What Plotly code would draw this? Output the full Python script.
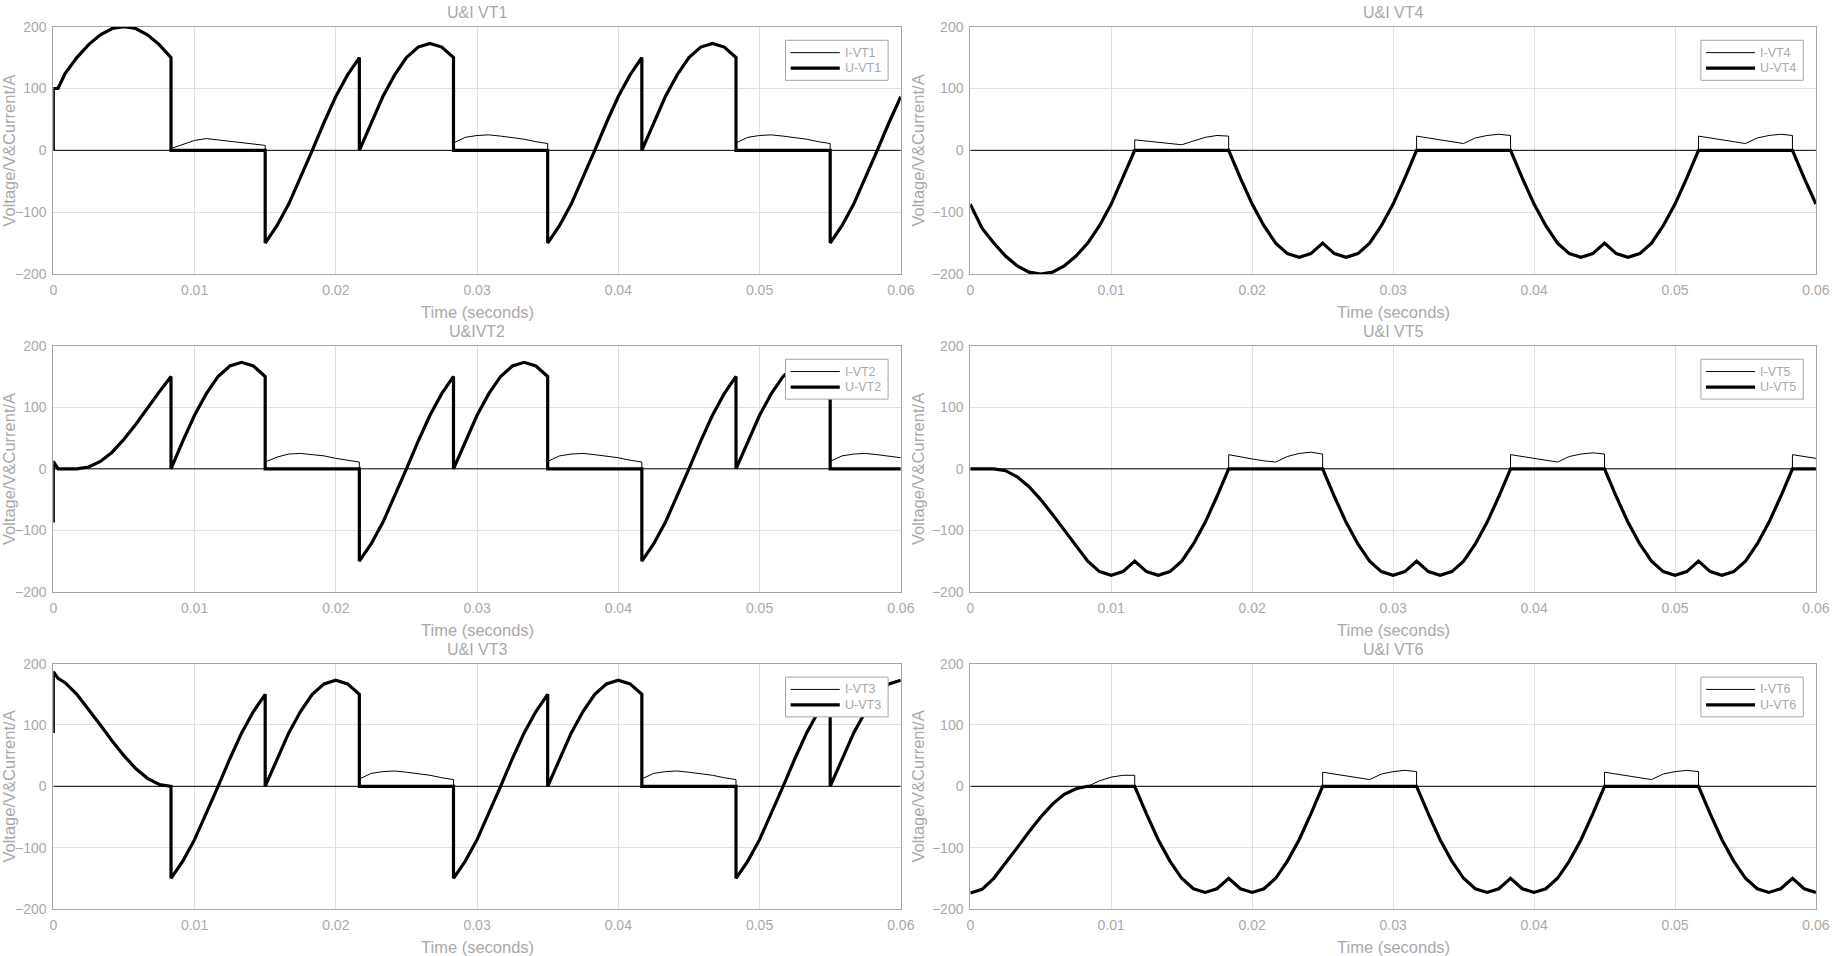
import plotly.graph_objects as go

# Sample instants as electrical angle (degrees of the 50 Hz supply, 18000 deg = 1 s).
# An angle written twice marks a vertical step in the trace.
DEG_UPPER = [0, 0, 6, 15, 30, 45, 60, 75, 90, 105, 120, 135, 150,
             150, 165, 180, 195, 210, 225, 240, 255, 270,
             270, 285, 300, 315, 330, 345, 360, 375, 390,
             390, 405, 420, 435, 450, 465, 480, 495, 510,
             510, 525, 540, 555, 570, 585, 600, 615, 630,
             630, 645, 660, 675, 690, 705, 720, 735, 750,
             750, 765, 780, 795, 810, 825, 840, 855, 870,
             870, 885, 900, 915, 930, 945, 960, 975, 990,
             990, 1005, 1020, 1035, 1050, 1065, 1080]

DEG_LOWER = [0, 15, 30, 45, 60, 75, 90, 105, 120, 135, 150,
             150, 165, 180, 195, 210,
             210, 225, 240, 255, 270, 285, 300, 315, 330,
             330, 345, 360, 375, 390, 405, 420, 435, 450,
             450, 465, 480, 495, 510, 525, 540, 555, 570,
             570, 585, 600, 615, 630, 645, 660, 675, 690,
             690, 705, 720, 735, 750, 765, 780, 795, 810,
             810, 825, 840, 855, 870, 885, 900, 915, 930,
             930, 945, 960, 975, 990, 1005, 1020, 1035, 1050,
             1050, 1065, 1080]

U_VT1 = [0, 100, 100, 124, 150, 171, 187, 197, 200, 197, 187, 171, 150,
         0, 0, 0, 0, 0, 0, 0, 0, 0,
         -150, -122, -87, -45, 0, 45, 87, 122, 150,
         0, 45, 87, 122, 150, 167, 173, 167, 150,
         0, 0, 0, 0, 0, 0, 0, 0, 0,
         -150, -122, -87, -45, 0, 45, 87, 122, 150,
         0, 45, 87, 122, 150, 167, 173, 167, 150,
         0, 0, 0, 0, 0, 0, 0, 0, 0,
         -150, -122, -87, -45, 0, 45, 87]
I_VT1 = [0, 0, 0, 0, 0, 0, 0, 0, 0, 0, 0, 0, 0,
         3, 10, 16, 19, 17, 14, 12, 10, 8,
         0, 0, 0, 0, 0, 0, 0, 0, 0,
         0, 0, 0, 0, 0, 0, 0, 0, 0,
         12, 21, 24, 25, 23, 21, 18, 14, 11,
         0, 0, 0, 0, 0, 0, 0, 0, 0,
         0, 0, 0, 0, 0, 0, 0, 0, 0,
         12, 21, 24, 25, 23, 21, 18, 14, 11,
         0, 0, 0, 0, 0, 0, 0]

U_VT2 = [-87, 12, 0, 0, 0, 3, 12, 27, 48, 72, 99, 125, 150,
         0, 45, 87, 122, 150, 167, 173, 167, 150,
         0, 0, 0, 0, 0, 0, 0, 0, 0,
         -150, -122, -87, -45, 0, 45, 87, 122, 150,
         0, 45, 87, 122, 150, 167, 173, 167, 150,
         0, 0, 0, 0, 0, 0, 0, 0, 0,
         -150, -122, -87, -45, 0, 45, 87, 122, 150,
         0, 45, 87, 122, 150, 167, 173, 167, 150,
         0, 0, 0, 0, 0, 0, 0]
I_VT2 = [0, 0, 0, 0, 0, 0, 0, 0, 0, 0, 0, 0, 0,
         0, 0, 0, 0, 0, 0, 0, 0, 0,
         11, 19, 24, 25, 23, 21, 17, 14, 11,
         0, 0, 0, 0, 0, 0, 0, 0, 0,
         0, 0, 0, 0, 0, 0, 0, 0, 0,
         12, 21, 24, 25, 23, 21, 18, 14, 11,
         0, 0, 0, 0, 0, 0, 0, 0, 0,
         0, 0, 0, 0, 0, 0, 0, 0, 0,
         12, 21, 24, 25, 23, 21, 18]

U_VT3 = [87, 187, 176, 169, 150, 126, 100, 74, 50, 29, 13, 3, 0,
         -150, -122, -87, -45, 0, 45, 87, 122, 150,
         0, 45, 87, 122, 150, 167, 173, 167, 150,
         0, 0, 0, 0, 0, 0, 0, 0, 0,
         -150, -122, -87, -45, 0, 45, 87, 122, 150,
         0, 45, 87, 122, 150, 167, 173, 167, 150,
         0, 0, 0, 0, 0, 0, 0, 0, 0,
         -150, -122, -87, -45, 0, 45, 87, 122, 150,
         0, 45, 87, 122, 150, 167, 173]
I_VT3 = [0, 0, 0, 0, 0, 0, 0, 0, 0, 0, 0, 0, 0,
         0, 0, 0, 0, 0, 0, 0, 0, 0,
         0, 0, 0, 0, 0, 0, 0, 0, 0,
         12, 21, 24, 25, 23, 21, 18, 14, 11,
         0, 0, 0, 0, 0, 0, 0, 0, 0,
         0, 0, 0, 0, 0, 0, 0, 0, 0,
         12, 21, 24, 25, 23, 21, 18, 14, 11,
         0, 0, 0, 0, 0, 0, 0, 0, 0,
         0, 0, 0, 0, 0, 0, 0]

U_VT4 = [-87, -126, -150, -171, -187, -197, -200, -197, -187, -171, -150,
         -150, -122, -87, -45, 0,
         0, 0, 0, 0, 0, 0, 0, 0, 0,
         0, -45, -87, -122, -150, -167, -173, -167, -150,
         -150, -167, -173, -167, -150, -122, -87, -45, 0,
         0, 0, 0, 0, 0, 0, 0, 0, 0,
         0, -45, -87, -122, -150, -167, -173, -167, -150,
         -150, -167, -173, -167, -150, -122, -87, -45, 0,
         0, 0, 0, 0, 0, 0, 0, 0, 0,
         0, -45, -87]
I_VT4 = [0, 0, 0, 0, 0, 0, 0, 0, 0, 0, 0,
         0, 0, 0, 0, 0,
         17, 15, 13, 11, 9, 15, 21, 24, 23,
         0, 0, 0, 0, 0, 0, 0, 0, 0,
         0, 0, 0, 0, 0, 0, 0, 0, 0,
         23, 20, 17, 14, 11, 20, 24, 26, 24,
         0, 0, 0, 0, 0, 0, 0, 0, 0,
         0, 0, 0, 0, 0, 0, 0, 0, 0,
         23, 20, 17, 14, 11, 20, 24, 26, 24,
         0, 0, 0]

U_VT5 = [0, 0, 0, -3, -13, -29, -50, -74, -100, -126, -150,
         -150, -167, -173, -167, -150,
         -150, -167, -173, -167, -150, -122, -87, -45, 0,
         0, 0, 0, 0, 0, 0, 0, 0, 0,
         0, -45, -87, -122, -150, -167, -173, -167, -150,
         -150, -167, -173, -167, -150, -122, -87, -45, 0,
         0, 0, 0, 0, 0, 0, 0, 0, 0,
         0, -45, -87, -122, -150, -167, -173, -167, -150,
         -150, -167, -173, -167, -150, -122, -87, -45, 0,
         0, 0, 0]
I_VT5 = [0, 0, 0, 0, 0, 0, 0, 0, 0, 0, 0,
         0, 0, 0, 0, 0,
         0, 0, 0, 0, 0, 0, 0, 0, 0,
         23, 19, 16, 13, 11, 20, 25, 27, 24,
         0, 0, 0, 0, 0, 0, 0, 0, 0,
         0, 0, 0, 0, 0, 0, 0, 0, 0,
         23, 20, 17, 14, 11, 20, 24, 26, 24,
         0, 0, 0, 0, 0, 0, 0, 0, 0,
         0, 0, 0, 0, 0, 0, 0, 0, 0,
         23, 20, 17]

U_VT6 = [-174, -168, -150, -126, -100, -74, -50, -29, -13, -4, 0,
         0, 0, 0, 0, 0,
         0, -45, -87, -122, -150, -167, -173, -167, -150,
         -150, -167, -173, -167, -150, -122, -87, -45, 0,
         0, 0, 0, 0, 0, 0, 0, 0, 0,
         0, -45, -87, -122, -150, -167, -173, -167, -150,
         -150, -167, -173, -167, -150, -122, -87, -45, 0,
         0, 0, 0, 0, 0, 0, 0, 0, 0,
         0, -45, -87, -122, -150, -167, -173, -167, -150,
         -150, -167, -173]
I_VT6 = [0, 0, 0, 0, 0, 0, 0, 0, 0, 0, 0,
         0, 9, 15, 18, 18,
         0, 0, 0, 0, 0, 0, 0, 0, 0,
         0, 0, 0, 0, 0, 0, 0, 0, 0,
         23, 20, 17, 14, 11, 20, 24, 26, 24,
         0, 0, 0, 0, 0, 0, 0, 0, 0,
         0, 0, 0, 0, 0, 0, 0, 0, 0,
         23, 20, 17, 14, 11, 20, 24, 26, 24,
         0, 0, 0, 0, 0, 0, 0, 0, 0,
         0, 0, 0]

TITLES = ["U&I VT1", "U&I VT4", "U&IVT2", "U&I VT5", "U&I VT3", "U&I VT6"]
NAMES = ["VT1", "VT4", "VT2", "VT5", "VT3", "VT6"]
X_TICKS = [0, 0.01, 0.02, 0.03, 0.04, 0.05, 0.06]
X_TICK_TEXT = ["0", "0.01", "0.02", "0.03", "0.04", "0.05", "0.06"]
Y_TICKS = [-200, -100, 0, 100, 200]

panels = [
    (DEG_UPPER, U_VT1, I_VT1),
    (DEG_LOWER, U_VT4, I_VT4),
    (DEG_UPPER, U_VT2, I_VT2),
    (DEG_LOWER, U_VT5, I_VT5),
    (DEG_UPPER, U_VT3, I_VT3),
    (DEG_LOWER, U_VT6, I_VT6),
]

FONT = "Liberation Sans, Arial, Helvetica, sans-serif"
TEXT_GRAY = "#a9a9a9"
AXIS_GRAY = "#a6a6a6"
GRID_GRAY = "#e0e0e0"

X_DOMAINS = [[0.0290, 0.4901], [0.5279, 0.9880]]
Y_DOMAINS = [[0.7134, 0.9721], [0.3808, 0.6384], [0.0492, 0.3058]]

fig = go.Figure()
axes = {}
shapes = []
annotations = []

for n, ((deg, u, i), title, name) in enumerate(zip(panels, TITLES, NAMES), start=1):
    assert len(deg) == len(u) == len(i), name
    row, col = divmod(n - 1, 2)
    sfx = "" if n == 1 else str(n)
    t = [d / 18000 for d in deg]

    fig.add_trace(go.Scatter(x=t, y=i, mode="lines", name="I-" + name,
                             line=dict(color="black", width=1),
                             xaxis="x" + sfx, yaxis="y" + sfx,
                             showlegend=False, hoverinfo="skip"))
    fig.add_trace(go.Scatter(x=t, y=u, mode="lines", name="U-" + name,
                             line=dict(color="black", width=3.2),
                             xaxis="x" + sfx, yaxis="y" + sfx,
                             showlegend=False, hoverinfo="skip"))

    common = dict(showline=True, mirror=True, linecolor=AXIS_GRAY, linewidth=1,
                  showgrid=True, gridcolor=GRID_GRAY, gridwidth=1, zeroline=False,
                  ticks="outside", ticklen=3, tickcolor="white", automargin=False,
                  tickfont=dict(size=14, color=TEXT_GRAY, family=FONT),
                  fixedrange=True)
    axes["xaxis" + sfx] = dict(common, domain=X_DOMAINS[col], range=[0, 0.06],
                               tickvals=X_TICKS, ticktext=X_TICK_TEXT,
                               anchor="y" + sfx)
    axes["yaxis" + sfx] = dict(common, domain=Y_DOMAINS[row], range=[-200, 200],
                               tickvals=Y_TICKS, anchor="x" + sfx)

    xr, yr = "x" + sfx + " domain", "y" + sfx + " domain"

    # title, axis labels
    annotations.append(dict(text=title, xref=xr, yref=yr, x=0.5, y=1, yshift=14,
                            yanchor="middle", showarrow=False,
                            font=dict(size=16, color=TEXT_GRAY, family=FONT)))
    annotations.append(dict(text="Time (seconds)", xref=xr, yref=yr, x=0.5, y=0,
                            yshift=-38, yanchor="middle", showarrow=False,
                            font=dict(size=16.5, color=TEXT_GRAY, family=FONT)))
    annotations.append(dict(text="Voltage/V&Current/A", xref=xr, yref=yr, x=0, y=0.5,
                            xshift=-44 if col == 0 else -52,
                            xanchor="center", yanchor="middle",
                            textangle=-90, showarrow=False,
                            font=dict(size=16.5, color=TEXT_GRAY, family=FONT)))

    # legend box drawn in the axes, MATLAB style
    shapes.append(dict(type="rect", xref=xr, yref=yr, x0=0.864, x1=0.985,
                       y0=0.783, y1=0.945, fillcolor="white",
                       line=dict(color=AXIS_GRAY, width=1), layer="above"))
    for y_pos, width, label in [(0.895, 1, "I-" + name), (0.832, 3.3, "U-" + name)]:
        shapes.append(dict(type="line", xref=xr, yref=yr, x0=0.870, x1=0.928,
                           y0=y_pos, y1=y_pos, line=dict(color="black", width=width),
                           layer="above"))
        annotations.append(dict(text=label, xref=xr, yref=yr, x=0.932, y=y_pos,
                                xanchor="left", yanchor="middle", showarrow=False,
                                font=dict(size=12.5, color=TEXT_GRAY, family=FONT)))

fig.update_layout(
    width=1838, height=956,
    margin=dict(l=0, r=0, t=0, b=0),
    paper_bgcolor="white", plot_bgcolor="white",
    font=dict(family=FONT, color=TEXT_GRAY),
    shapes=shapes, annotations=annotations,
    showlegend=False,
    **axes,
)

# the page's default body margin would shift the whole figure by 8 px
fig.write_html("out.html", config={"displayModeBar": False},
               post_script="document.body.style.margin = '0px';")
